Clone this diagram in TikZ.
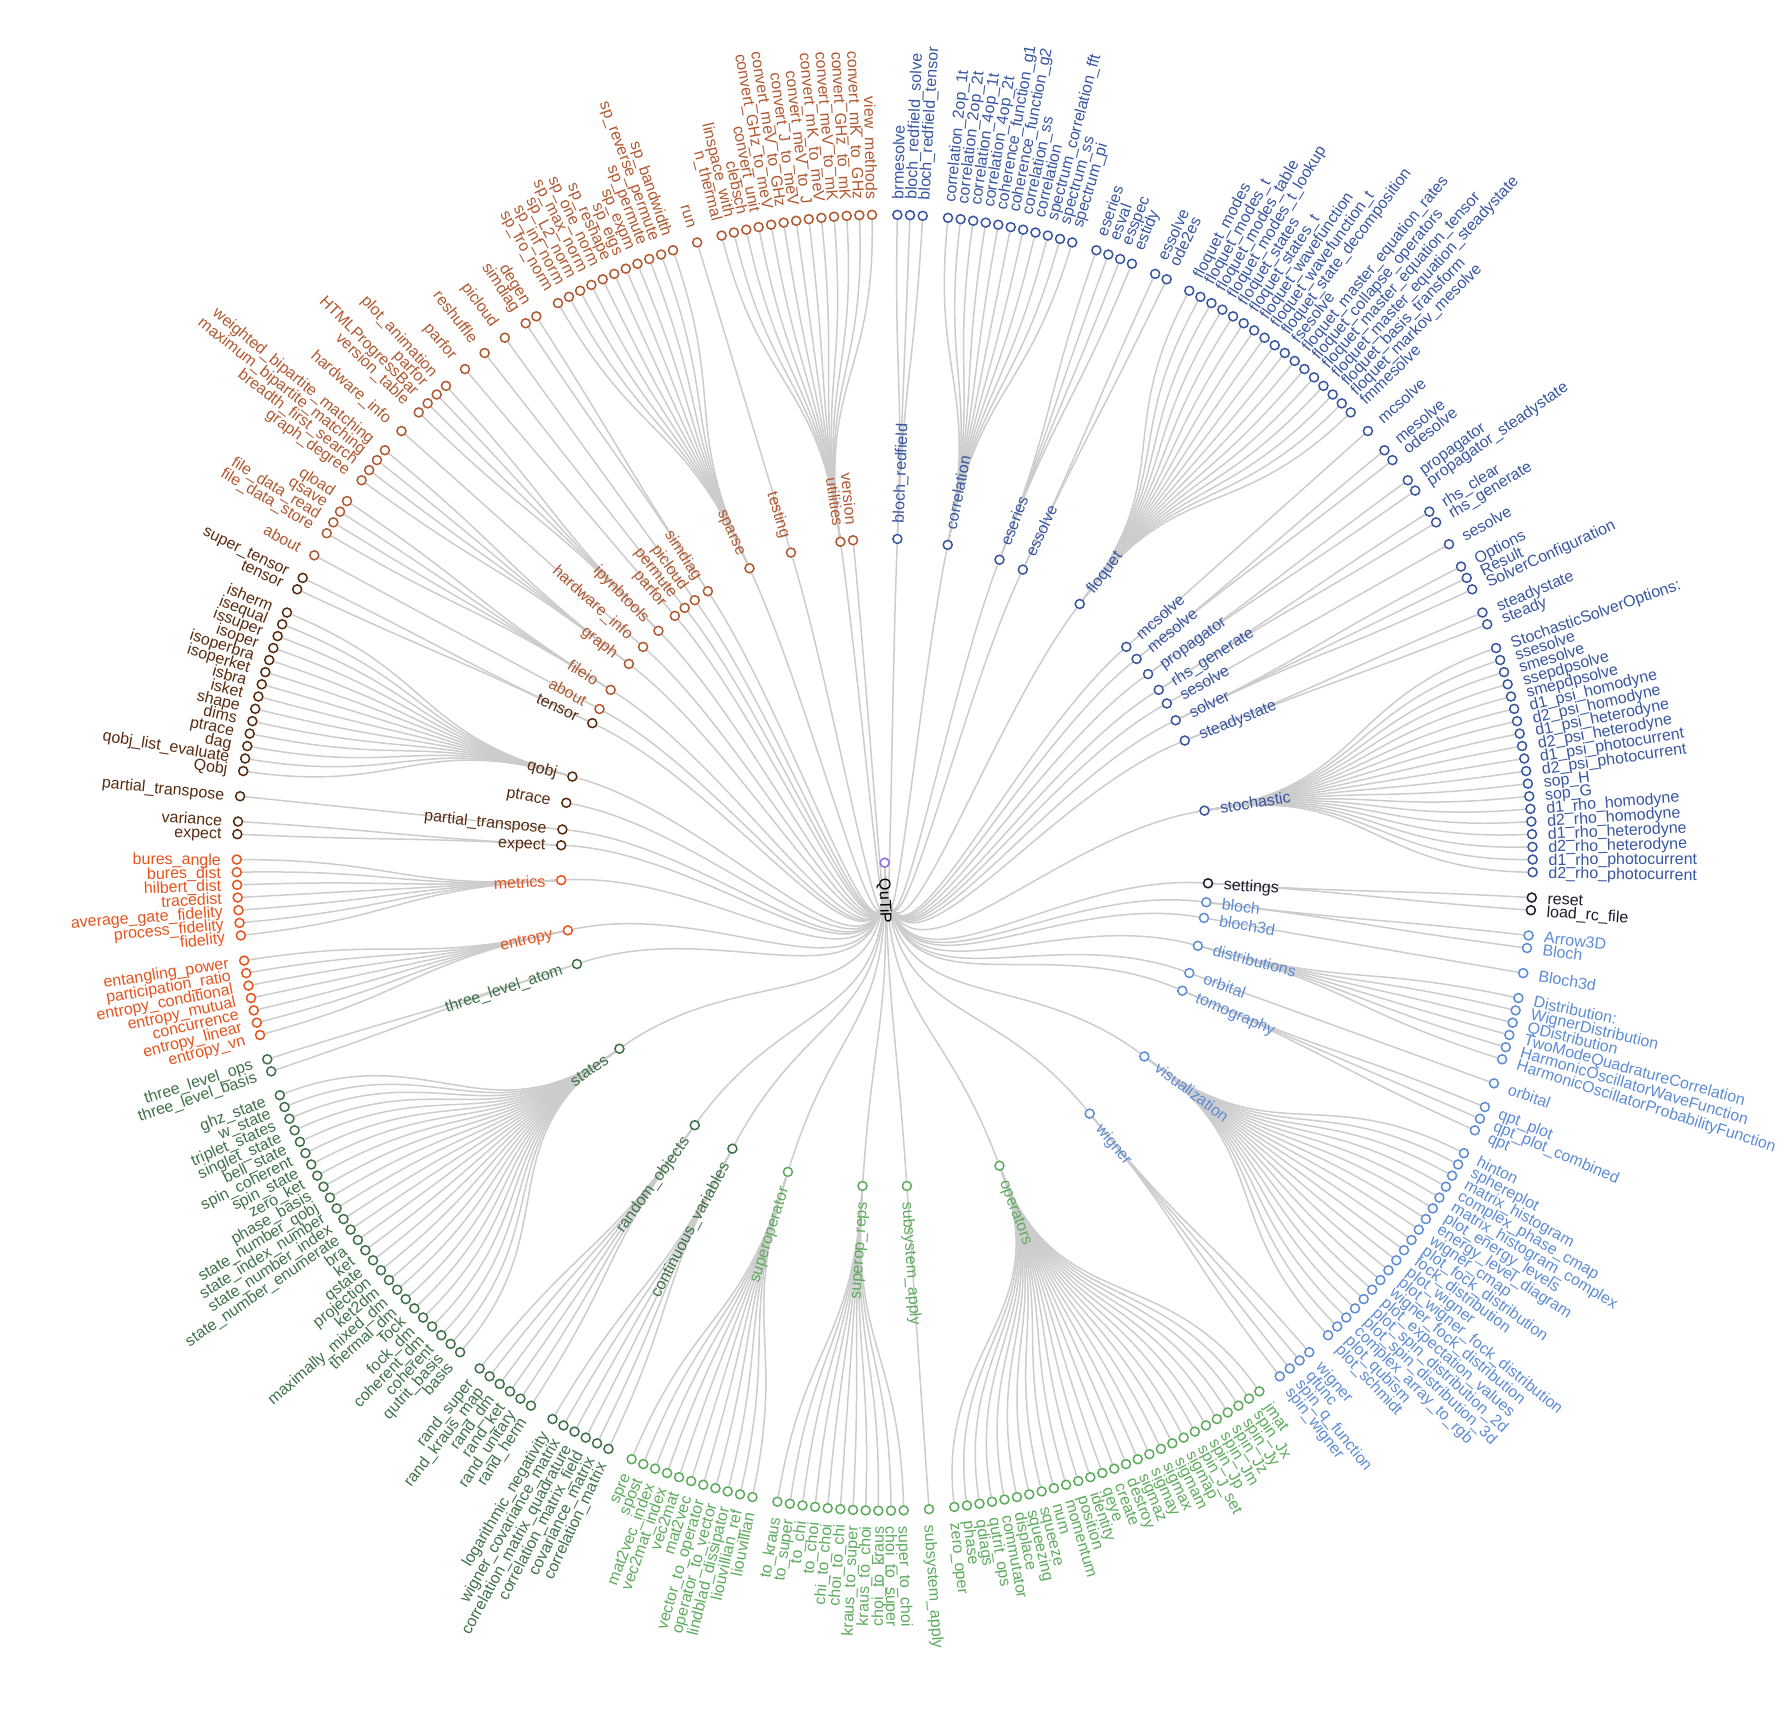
\documentclass[tikz,border=0pt]{standalone}
\usepackage{fontspec}
\setmainfont{Liberation Sans}
\usepackage{xcolor}
\usepackage{tikz}
\usetikzlibrary{backgrounds}

\definecolor{rootcol}{RGB}{140,112,226}
\definecolor{solvercol}{RGB}{55,85,160}
\definecolor{setcol}{RGB}{24,28,44}
\definecolor{viscol}{RGB}{93,139,212}
\definecolor{opcol}{RGB}{92,170,92}
\definecolor{statecol}{RGB}{62,112,70}
\definecolor{metriccol}{RGB}{229,83,30}
\definecolor{qobjcol}{RGB}{88,42,14}
\definecolor{utilcol}{RGB}{176,88,48}
\definecolor{branchcol}{RGB}{204,204,204}

\newcommand\slotdeg{2.24299}
\newcommand\ring{324}
\newcommand\lblgap{15.5}
\newcommand\lbldrop{5.7}
\newcommand\rootang{-88.318}
\newif\iflinkpass

\tikzset{
  nodedot/.style={circle, draw=#1, fill=white, line width=.75pt, inner sep=0pt, minimum size=4.5pt},
  lbl/.style={text=#1, inner sep=0pt, font=\fontsize{8}{9.6}\selectfont},
  branch/.style={draw=branchcol, line width=.75pt}
}

\newcommand\putnode[5]{%
  \pgfmathsetmacro\nang{90-(#3)*\slotdeg}%
  \pgfmathsetmacro\ndeg{(#3)*\slotdeg}%
  \pgfmathsetmacro\lrad{#4+\lblgap}%
  \node[nodedot=#2] (#1) at ({\nang}:{#4}) {};
  \ifdim\ndeg pt<180pt
    \pgfmathsetmacro\drop{\nang-90}%
    \node[lbl=#2, rotate=\nang, anchor=base west] at ([shift={(\drop:\lbldrop)}]\nang:\lrad) {#5};
  \else
    \pgfmathsetmacro\flip{\nang+180}%
    \pgfmathsetmacro\drop{\nang+90}%
    \node[lbl=#2, rotate=\flip, anchor=base east] at ([shift={(\drop:\lbldrop)}]\nang:\lrad) {#5};
  \fi}

\newcommand\barenode[3]{%
  \pgfmathsetmacro\modang{90-(#2)*\slotdeg}%
  \iflinkpass
    \draw[branch] (root) .. controls ({\rootang}:{\ring/2}) and ({\modang}:{\ring/2}) .. (#3);
  \else
    \putnode{#3}{#1}{#2}{\ring}{#3}%
  \fi}

\newcommand\module[4]{%
  \gdef\nkids{0}%
  \foreach \k in {#4} {\xdef\nkids{\the\numexpr\nkids+1\relax}}%
  \pgfmathsetmacro\modslot{#2+(\nkids-1)/4}%
  \barenode{#1}{\modslot}{#3}%
  \foreach \k [count=\i from 0] in {#4} {%
    \pgfmathsetmacro\kslot{#2+\i/2}%
    \pgfmathsetmacro\kang{90-\kslot*\slotdeg}%
    \iflinkpass
      \draw[branch] (#3) .. controls ({\modang}:{1.5*\ring}) and ({\kang}:{1.5*\ring}) .. (#3-\i);
    \else
      \putnode{#3-\i}{#1}{\kslot}{2*\ring}{\k}%
    \fi}}

\begin{document}
\catcode`\_=12
\def\allmodules{%
  \module{solvercol}{0.5}{bloch_redfield}{brmesolve,bloch_redfield_solve,bloch_redfield_tensor}
  \module{solvercol}{2.5}{correlation}{correlation_2op_1t,correlation_2op_2t,correlation_4op_1t,correlation_4op_2t,coherence_function_g1,coherence_function_g2,correlation_ss,correlation,spectrum_correlation_fft,spectrum_ss,spectrum_pi}
  \module{solvercol}{8.5}{eseries}{eseries,esval,esspec,estidy}
  \module{solvercol}{11}{essolve}{essolve,ode2es}
  \module{solvercol}{12.5}{floquet}{floquet_modes,floquet_modes_t,floquet_modes_table,floquet_modes_t_lookup,floquet_states,floquet_states_t,floquet_wavefunction,floquet_wavefunction_t,floquet_state_decomposition,fsesolve,floquet_master_equation_rates,floquet_collapse_operators,floquet_master_equation_tensor,floquet_master_equation_steadystate,floquet_basis_transform,floquet_markov_mesolve,fmmesolve}
  \module{solvercol}{21.5}{mcsolve}{mcsolve}
  \module{solvercol}{22.5}{mesolve}{mesolve,odesolve}
  \module{solvercol}{24}{propagator}{propagator,propagator_steadystate}
  \module{solvercol}{25.5}{rhs_generate}{rhs_clear,rhs_generate}
  \module{solvercol}{27}{sesolve}{sesolve}
  \module{solvercol}{28}{solver}{Options,Result,SolverConfiguration}
  \module{solvercol}{30}{steadystate}{steadystate,steady}
  \module{solvercol}{31.5}{stochastic}{StochasticSolverOptions:,ssesolve,smesolve,ssepdpsolve,smepdpsolve,d1_psi_homodyne,d2_psi_homodyne,d1_psi_heterodyne,d2_psi_heterodyne,d1_psi_photocurrent,d2_psi_photocurrent,sop_H,sop_G,d1_rho_homodyne,d2_rho_homodyne,d1_rho_heterodyne,d2_rho_heterodyne,d1_rho_photocurrent,d2_rho_photocurrent}
  \module{setcol}{41.5}{settings}{reset,load_rc_file}
  \module{viscol}{43}{bloch}{Arrow3D,Bloch}
  \module{viscol}{44.5}{bloch3d}{Bloch3d}
  \module{viscol}{45.5}{distributions}{Distribution:,WignerDistribution,QDistribution,TwoModeQuadratureCorrelation,HarmonicOscillatorWaveFunction,HarmonicOscillatorProbabilityFunction}
  \module{viscol}{49}{orbital}{orbital}
  \module{viscol}{50}{tomography}{qpt_plot,qpt_plot_combined,qpt}
  \module{viscol}{52}{visualization}{hinton,sphereplot,matrix_histogram,complex_phase_cmap,matrix_histogram_complex,plot_energy_levels,energy_level_diagram,wigner_cmap,plot_fock_distribution,fock_distribution,plot_wigner,plot_wigner_fock_distribution,wigner_fock_distribution,plot_expectation_values,plot_spin_distribution_2d,plot_spin_distribution_3d,complex_array_to_rgb,plot_qubism,plot_schmidt}
  \module{viscol}{62}{wigner}{wigner,qfunc,spin_q_function,spin_wigner}
  \module{opcol}{64.5}{operators}{jmat,spin_Jx,spin_Jy,spin_Jz,spin_Jm,spin_Jp,spin_J_set,sigmap,sigmam,sigmax,sigmay,sigmaz,destroy,create,qeye,identity,position,momentum,num,squeeze,squeezing,displace,commutator,qutrit_ops,qdiags,phase,zero_oper}
  \module{opcol}{78.5}{subsystem_apply}{subsystem_apply}
  \module{opcol}{79.5}{superop_reps}{super_to_choi,choi_to_super,choi_to_kraus,kraus_to_choi,kraus_to_super,choi_to_chi,chi_to_choi,to_choi,to_chi,to_super,to_kraus}
  \module{opcol}{85.5}{superoperator}{liouvillian,liouvillian_ref,lindblad_dissipator,operator_to_vector,vector_to_operator,mat2vec,vec2mat,vec2mat_index,mat2vec_index,spost,spre}
  \module{statecol}{91.5}{continuous_variables}{correlation_matrix,covariance_matrix,correlation_matrix_field,correlation_matrix_quadrature,wigner_covariance_matrix,logarithmic_negativity}
  \module{statecol}{95}{random_objects}{rand_herm,rand_unitary,rand_ket,rand_dm,rand_kraus_map,rand_super}
  \module{statecol}{98.5}{states}{basis,qutrit_basis,coherent,coherent_dm,fock_dm,fock,thermal_dm,maximally_mixed_dm,ket2dm,projection,qstate,ket,bra,state_number_enumerate,state_number_index,state_index_number,state_number_qobj,phase_basis,zero_ket,spin_state,spin_coherent,bell_state,singlet_state,triplet_states,w_state,ghz_state}
  \module{statecol}{112}{three_level_atom}{three_level_basis,three_level_ops}
  \module{metriccol}{113.5}{entropy}{entropy_vn,entropy_linear,concurrence,entropy_mutual,entropy_conditional,participation_ratio,entangling_power}
  \module{metriccol}{117.5}{metrics}{fidelity,process_fidelity,average_gate_fidelity,tracedist,hilbert_dist,bures_dist,bures_angle}
  \module{qobjcol}{121.5}{expect}{expect,variance}
  \module{qobjcol}{123}{partial_transpose}{partial_transpose}
  \barenode{qobjcol}{125.125}{ptrace}
  \module{qobjcol}{124}{qobj}{Qobj,qobj_list_evaluate,dag,ptrace,dims,shape,isket,isbra,isoperket,isoperbra,isoper,issuper,isequal,isherm}
  \module{qobjcol}{131.5}{tensor}{tensor,super_tensor}
  \module{utilcol}{133}{about}{about}
  \module{utilcol}{134}{fileio}{file_data_store,file_data_read,qsave,qload}
  \module{utilcol}{136.5}{graph}{graph_degree,breadth_first_search,maximum_bipartite_matching,weighted_bipartite_matching}
  \module{utilcol}{139}{hardware_info}{hardware_info}
  \module{utilcol}{140}{ipynbtools}{version_table,HTMLProgressBar,parfor,plot_animation}
  \module{utilcol}{142.5}{parfor}{parfor}
  \module{utilcol}{143.5}{permute}{reshuffle}
  \module{utilcol}{144.5}{picloud}{picloud}
  \module{utilcol}{145.5}{simdiag}{simdiag,degen}
  \module{utilcol}{147}{sparse}{sp_fro_norm,sp_inf_norm,sp_L2_norm,sp_max_norm,sp_one_norm,sp_reshape,sp_eigs,sp_expm,sp_permute,sp_reverse_permute,sp_bandwidth}
  \module{utilcol}{153}{testing}{run}
  \module{utilcol}{154}{utilities}{n_thermal,linspace_with,clebsch,convert_unit,convert_GHz_to_meV,convert_meV_to_GHz,convert_J_to_meV,convert_meV_to_J,convert_mK_to_meV,convert_meV_to_mK,convert_GHz_to_mK,convert_mK_to_GHz,view_methods}
  \barenode{utilcol}{158}{version}}
\begin{tikzpicture}[x=0.5pt, y=0.5pt]
  \useasboundingbox (-884.7,-845.3) rectangle (907.3,862.7);

  \node[nodedot=rootcol] (root) at (0,0) {};
  \node[lbl=black, rotate=\rootang, anchor=base west] at ([shift={(\rootang-90:\lbldrop)}]\rootang:\lblgap) {QuTiP};

  \linkpassfalse
  \allmodules

  \begin{scope}[on background layer]
    \linkpasstrue
    \allmodules
  \end{scope}
\end{tikzpicture}
\end{document}
